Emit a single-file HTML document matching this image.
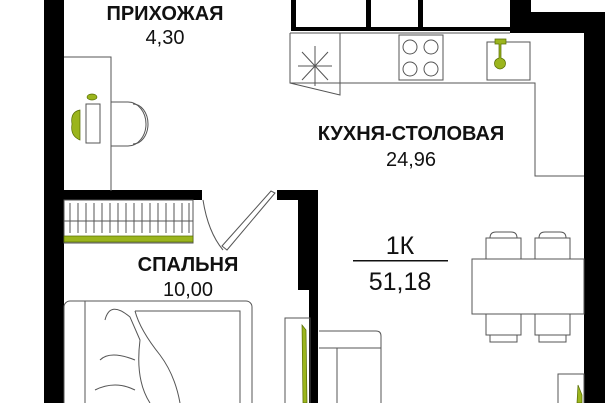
<!DOCTYPE html>
<html><head><meta charset="utf-8"><style>
html,body{margin:0;padding:0;background:#fff;}
svg{display:block;}
text{font-family:"Liberation Sans",sans-serif;fill:#111;text-anchor:middle;}
.b{font-weight:bold;font-size:20px;}
.n{font-size:20px;}
</style></head><body>
<svg width="605" height="403" viewBox="0 0 605 403" xmlns="http://www.w3.org/2000/svg">
<g fill="#000">
<rect x="44" y="0" width="20" height="403"/>
<rect x="510" y="0" width="21" height="12"/>
<rect x="510" y="12" width="95" height="21"/>
<rect x="584" y="12" width="21" height="391"/>
<rect x="64" y="190" width="138" height="10"/>
<rect x="277" y="190" width="41" height="10"/>
<rect x="298" y="190" width="20" height="100"/>
<rect x="309" y="290" width="9" height="113"/>
<rect x="291" y="0" width="5" height="31"/>
<rect x="291" y="27" width="219" height="4"/>
<rect x="366" y="0" width="5" height="31"/>
<rect x="418" y="0" width="5" height="31"/>
</g>
<g fill="none" stroke="#555" stroke-width="1">
<path d="M290 33 H510 M290 33 V83 H535 V176 H584"/>
<path d="M340 33 V95 L290 83"/>
<path d="M298 66 H332 M315 46 V86 M302 52 L328 80 M328 52 L302 80"/>
<rect x="399" y="35" width="44" height="45"/>
<circle cx="410" cy="47" r="7"/><circle cx="431" cy="47" r="7"/>
<circle cx="410" cy="69" r="7"/><circle cx="431" cy="69" r="7"/>
<rect x="487" y="42" width="43" height="38"/>
<path d="M64 57 H111 V191"/>
<rect x="86" y="104" width="14" height="39"/>
<path d="M111 102 H128 A18 22 0 0 1 128 146 H111 Z"/>
<path d="M133 104 A15 20 0 0 1 133 144"/>
<rect x="64" y="200" width="129" height="43"/>
<path d="M64 221 H193"/>
<path d="M70 203 V233 M78 203 V233 M86 203 V233 M94 203 V233 M102 203 V233 M110 203 V233 M118 203 V233 M126 203 V233 M134 203 V233 M142 203 V233 M150 203 V233 M158 203 V233 M166 203 V233 M174 203 V233 M182 203 V233 M189 203 V233"/>
<path d="M275 193 L227 250 L222 246 L271 191 Z"/>
<path d="M203 200 Q208 232 223 250"/>
<rect x="64" y="301" width="188" height="110" rx="6"/>
<path d="M85 301 V403 M135 311 H240 V403"/>
<path d="M105 320 Q110 300 130 317 L140 340 Q135 380 150 403 M100 360 Q110 350 135 360 M95 390 Q115 380 135 390"/>
<path d="M135 311 Q140 330 160 355 Q175 375 180 403"/>
<rect x="285" y="318" width="25" height="90"/>
<path d="M319 331 H376 Q381 331 381 336 V403 M319 348 H381 M337 348 V403"/>
<rect x="472" y="259" width="112" height="55"/>
<path d="M486 259 V238 H521 V259 M490 238 Q490 232 496 232 H511 Q517 232 517 238 M535 259 V238 H570 V259 M539 238 Q539 232 545 232 H560 Q566 232 566 238"/>
<path d="M486 314 V335 H521 V314 M490 335 V342 H517 V335 M535 314 V335 H570 V314 M539 335 V342 H566 V335"/>
<rect x="558" y="374" width="26" height="35"/>
</g>
<g fill="#9bb51d" stroke="#556b00" stroke-width="0.7">
<rect x="64" y="236" width="129" height="6"/>
<path d="M495 39 H506 V44 H501 V58 Q507 60 505 66 Q500 72 495 66 Q493 60 499 58 V44 H495 Z"/>
<ellipse cx="92" cy="97" rx="5" ry="3"/>
<path d="M80 110 Q70 112 72 124 Q70 136 80 140 Z"/>
<path d="M302 325 L306 330 L307 403 L303 403 Z"/>
<path d="M578 385 L582 395 L582 403 L577 403 Z"/>
</g>
<text class="b" x="165" y="20">ПРИХОЖАЯ</text>
<text class="n" x="165" y="44">4,30</text>
<text class="b" x="411" y="140">КУХНЯ-СТОЛОВАЯ</text>
<text class="n" x="411" y="166">24,96</text>
<text class="b" x="188" y="271">СПАЛЬНЯ</text>
<text class="n" x="188" y="296">10,00</text>
<text x="400" y="254" style="font-size:25px">1К</text>
<rect x="353" y="260" width="95" height="1.5" fill="#111"/>
<text x="400" y="290" style="font-size:25px">51,18</text>
</svg>
</body></html>
